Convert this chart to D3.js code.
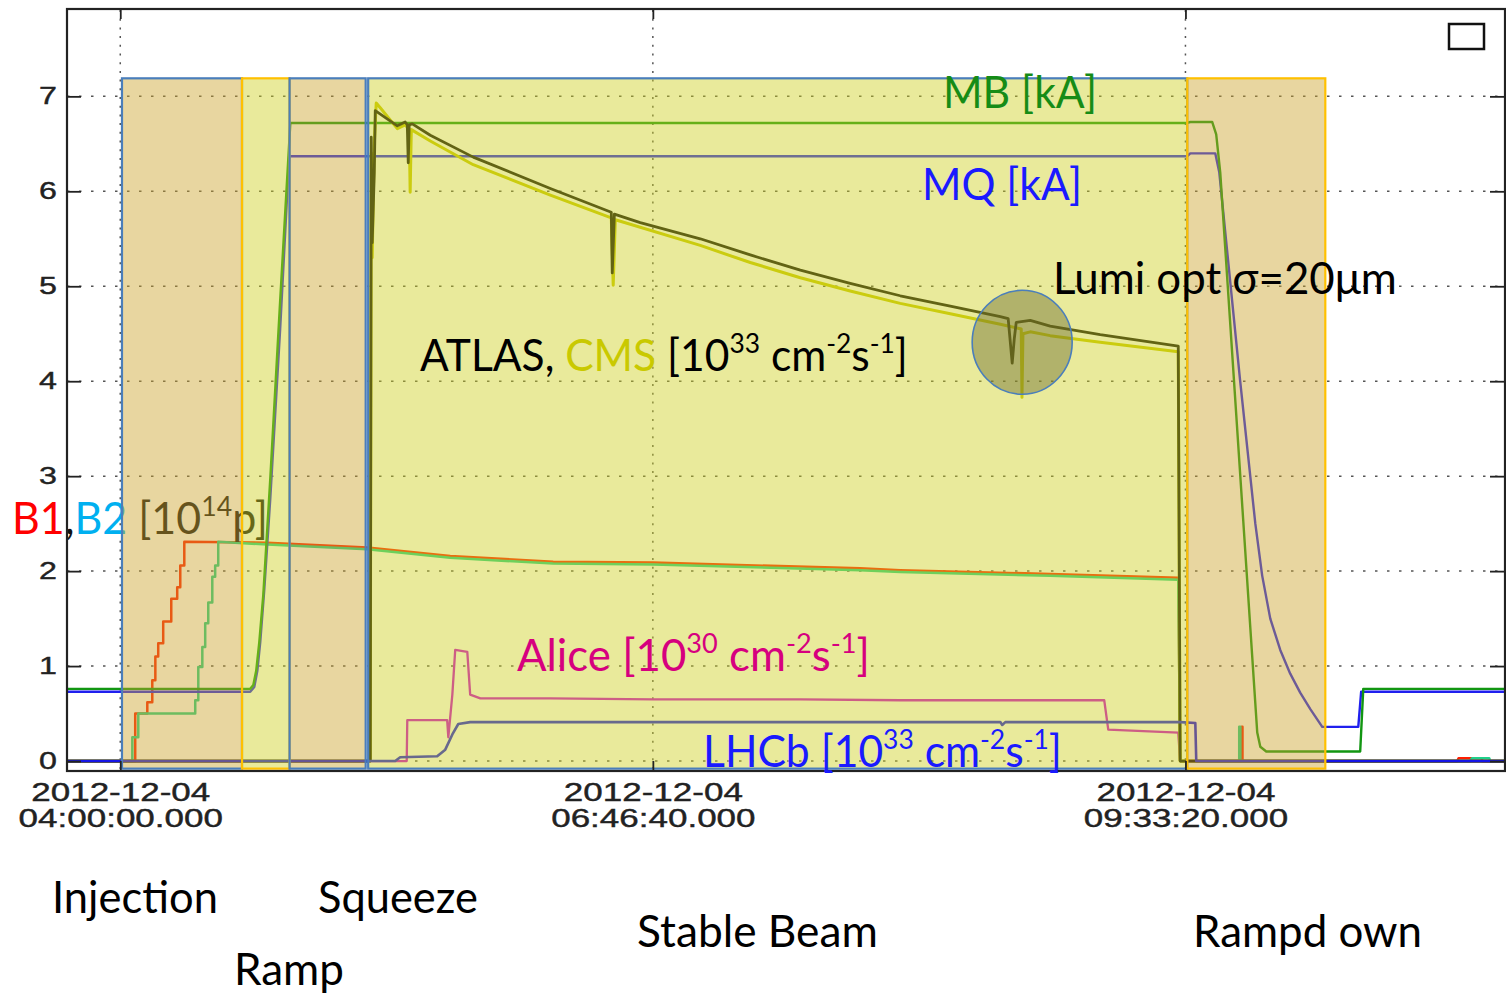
<!DOCTYPE html>
<html>
<head>
<meta charset="utf-8">
<script src="https://cdn.jsdelivr.net/npm/d3@7/dist/d3.min.js"></script>
<style>
html,body{margin:0;padding:0;background:#ffffff;overflow:hidden;}
svg{display:block;}
text{white-space:pre;}
</style>
</head>
<body>
<svg id="chart" width="1506" height="996"></svg>
<script>
// ================= DATA =================
// times: decimal hours on 2012-12-04 ; values in axis units
const dateLabel = "2012-12-04";
const xDomainTimes = ["03:43:20", "11:13:20"];
const xTickTimes = ["04:00:00", "06:46:40", "09:33:20"];
const yTicks = [0, 1, 2, 3, 4, 5, 6, 7];

const mbTime  = [3.7222, 4.678, 4.694, 4.709, 4.725, 4.746, 4.782, 4.834, 4.887, 9.565, 9.581, 9.695, 9.716, 9.737, 9.930, 9.946, 9.977, 10.467, 10.483, 11.2222];
const mbValue = [0.76, 0.76, 0.80, 0.95, 1.25, 1.75, 2.96, 4.85, 6.72, 6.72, 6.73, 6.73, 6.6, 6.2, 0.3, 0.15, 0.1, 0.1, 0.76, 0.76];

const mqTime  = [3.7222, 4.678, 4.699, 4.715, 4.730, 4.751, 4.782, 4.834, 4.881, 9.565, 9.581, 9.711, 9.732, 9.841, 9.920, 9.956, 9.998, 10.050, 10.102, 10.154, 10.206, 10.269, 10.457, 10.472, 11.2222];
const mqValue = [0.73, 0.73, 0.78, 0.95, 1.25, 1.8, 2.75, 4.55, 6.37, 6.37, 6.40, 6.40, 6.2, 4.0, 2.5, 1.95, 1.5, 1.17, 0.92, 0.72, 0.55, 0.36, 0.36, 0.73, 0.73];

const b1Time  = [3.7222, 4.078, 4.078, 4.141, 4.141, 4.167, 4.167, 4.183, 4.183, 4.198, 4.198, 4.224, 4.224, 4.266, 4.266, 4.297, 4.297, 4.313, 4.313, 4.334, 4.334, 4.767, 5.288, 5.721, 6.258, 6.780, 7.859, 8.068, 8.850, 9.518, 9.528, 9.850, 9.850, 9.853, 9.853, 10.973, 10.98, 11.10, 11.105, 11.2222];
const b1Value = [0, 0, 0.5, 0.5, 0.62, 0.62, 0.85, 0.85, 1.10, 1.10, 1.24, 1.24, 1.47, 1.47, 1.71, 1.71, 1.83, 1.83, 2.06, 2.06, 2.31, 2.30, 2.25, 2.16, 2.10, 2.09, 2.03, 2.01, 1.97, 1.93, 0, 0, 0.36, 0.36, 0, 0, 0.03, 0.03, 0, 0];

const b2Time  = [3.7222, 4.063, 4.063, 4.094, 4.094, 4.391, 4.391, 4.407, 4.407, 4.428, 4.428, 4.443, 4.443, 4.459, 4.459, 4.480, 4.480, 4.495, 4.495, 4.511, 4.511, 4.767, 5.288, 5.721, 6.258, 6.780, 7.859, 8.068, 8.850, 9.518, 9.528, 9.836, 9.836, 9.842, 9.842, 11.04, 11.05, 11.14, 11.145, 11.2222];
const b2Value = [0, 0, 0.25, 0.25, 0.5, 0.5, 0.64, 0.64, 0.99, 0.99, 1.20, 1.20, 1.45, 1.45, 1.67, 1.67, 1.94, 1.94, 2.06, 2.06, 2.31, 2.28, 2.23, 2.14, 2.08, 2.07, 2.01, 1.99, 1.95, 1.91, 0, 0, 0.36, 0.36, 0, 0, 0.03, 0.03, 0, 0];

const atlasTime  = [3.7222, 5.304, 5.309, 5.314, 5.325, 5.330, 5.445, 5.486, 5.497, 5.502, 5.507, 5.523, 5.617, 5.841, 6.243, 6.561, 6.566, 6.577, 6.712, 7.025, 7.286, 7.547, 7.807, 8.068, 8.329, 8.590, 8.631, 8.652, 8.663, 8.673, 8.746, 8.850, 9.111, 9.518, 9.528, 11.2222];
const atlasValue = [0, 0, 6.57, 5.46, 6.2, 6.85, 6.69, 6.73, 6.70, 6.30, 6.70, 6.71, 6.59, 6.36, 6.03, 5.78, 5.14, 5.76, 5.67, 5.50, 5.33, 5.17, 5.03, 4.90, 4.79, 4.68, 4.66, 4.19, 4.45, 4.62, 4.64, 4.58, 4.49, 4.37, 0, 0];

const cmsTime  = [3.7222, 5.304, 5.309, 5.314, 5.325, 5.335, 5.356, 5.445, 5.486, 5.507, 5.512, 5.518, 5.617, 5.841, 6.243, 6.561, 6.571, 6.582, 7.025, 7.286, 7.547, 7.807, 8.068, 8.329, 8.590, 8.699, 8.703, 8.708, 8.746, 8.850, 9.111, 9.518, 9.528, 11.2222];
const cmsValue = [0, 0, 6.4, 5.3, 6.5, 6.93, 6.88, 6.66, 6.70, 6.65, 5.99, 6.65, 6.53, 6.28, 5.96, 5.72, 5.01, 5.70, 5.43, 5.25, 5.09, 4.95, 4.82, 4.71, 4.60, 4.55, 3.83, 4.50, 4.52, 4.48, 4.41, 4.31, 0, 0];

const aliceTime  = [3.7222, 5.494, 5.497, 5.705, 5.711, 5.732, 5.747, 5.810, 5.825, 5.878, 6.243, 6.780, 7.547, 8.068, 8.590, 9.132, 9.153, 9.518, 9.528, 11.2222];
const aliceValue = [0, 0, 0.43, 0.43, 0.25, 0.7, 1.17, 1.15, 0.7, 0.66, 0.66, 0.65, 0.65, 0.64, 0.64, 0.64, 0.33, 0.30, 0, 0];

const lhcbTime  = [3.7222, 5.434, 5.460, 5.653, 5.695, 5.732, 5.763, 5.825, 8.590, 8.600, 8.616, 9.528, 9.607, 9.612, 11.2222];
const lhcbValue = [0, 0, 0.04, 0.05, 0.12, 0.28, 0.39, 0.41, 0.41, 0.38, 0.41, 0.41, 0.40, 0, 0];

const phaseName  = ["Injection", "Ramp", "Squeeze", "Stable Beam", "Rampd own"];
const phaseStart = [4.009, 4.635, 4.883, 5.293, 9.565];
const phaseEnd   = [4.635, 4.883, 5.280, 9.565, 10.285];
const phaseFill  = ["tan", "yellow", "tan", "yellow", "tan"];
const phaseEdge  = ["blue", "orange", "blue", "blue", "orange"];

const lumiOptTime = 8.704, lumiOptValue = 4.41;

// ================= DRAWING =================
const hrs = s => { const p = s.split(":").map(Number); return p[0] + p[1] / 60 + p[2] / 3600; };
const T0 = new Date(2012, 11, 4).getTime();
const toDate = h => new Date(T0 + h * 3600000);

const svg = d3.select("#chart");
const x = d3.scaleTime().domain(xDomainTimes.map(s => toDate(hrs(s)))).range([67, 1505]);
const y = d3.scaleLinear().domain([-0.105, 7.92]).range([771, 9]);

// grid
const grid = svg.append("g");
grid.selectAll("line.gh").data(yTicks).join("line").attr("class", "gh")
  .attr("x1", 67).attr("x2", 1505).attr("y1", d => y(d)).attr("y2", d => y(d))
  .attr("stroke", "#555").attr("stroke-width", 1.5).attr("stroke-dasharray", "2.5,9.5");
grid.selectAll("line.gv").data(xTickTimes).join("line").attr("class", "gv")
  .attr("x1", d => x(toDate(hrs(d)))).attr("x2", d => x(toDate(hrs(d))))
  .attr("y1", 10).attr("y2", 771)
  .attr("stroke", "#555").attr("stroke-width", 1.5).attr("stroke-dasharray", "2,6.7");

// series
const series = [
  {t: aliceTime, v: aliceValue, c: "#cd00d7", w: 2.3},
  {t: b1Time, v: b1Value, c: "#ff1e00", w: 2.5},
  {t: b2Time, v: b2Value, c: "#1fd08a", w: 2.5},
  {t: mqTime, v: mqValue, c: "#2020ee", w: 2.4},
  {t: mbTime, v: mbValue, c: "#129612", w: 2.4},
  {t: cmsTime, v: cmsValue, c: "#c8c800", w: 3},
  {t: atlasTime, v: atlasValue, c: "#0a0a0a", w: 2.8},
  {t: lhcbTime, v: lhcbValue, c: "#1515e6", w: 2.6}
];
const line = d3.line().x(d => x(toDate(d[0]))).y(d => y(d[1]));
const gl = svg.append("g").attr("fill", "none").attr("stroke-linejoin", "round");
series.forEach(s => {
  gl.append("path").attr("d", line(s.t.map((t, i) => [t, s.v[i]])))
    .attr("stroke", s.c).attr("stroke-width", s.w);
});

// rich label helper
function richLabel(parent, x0, base, width, size, color, segs) {
  const t = parent.append("text")
    .attr("font-family", "Lato, 'Open Sans', sans-serif")
    .attr("font-size", size).attr("fill", color).attr("x", 0).attr("y", 0);
  let shifted = false;
  const supSize = size * 0.62, rise = size * 0.40;
  segs.forEach(s => {
    const ts = t.append("tspan").text(s.t);
    if (s.c) ts.attr("fill", s.c);
    if (s.sup && !shifted) { ts.attr("dy", -rise); shifted = true; }
    else if (!s.sup && shifted) { ts.attr("dy", rise); shifted = false; }
    if (s.sup) ts.attr("font-size", supSize);
  });
  const bb = t.node().getBBox();
  const sx = width / bb.width;
  t.attr("transform", `translate(${x0 - bb.x * sx},${base}) scale(${sx},1)`);
  return t;
}

// B1,B2 label (sits under the phase overlay)
richLabel(svg, 12, 534, 256, 44, "#111", [
  {t: "B1", c: "#ff0000"}, {t: ",", c: "#111"}, {t: "B2", c: "#00b0f0"},
  {t: " [10"}, {t: "14", sup: true}, {t: "p]"}
]);

// phase overlays
const fillCol = {tan: "rgb(204,164,44)", yellow: "rgb(206,208,33)"};
const edgeCol = {blue: "#4a7ebb", orange: "#ffc000"};
const gp = svg.append("g");
phaseName.forEach((n, i) => {
  const x1 = x(toDate(phaseStart[i])), x2 = x(toDate(phaseEnd[i]));
  gp.append("rect").attr("x", x1).attr("y", y(7.19)).attr("width", x2 - x1).attr("height", y(-0.08) - y(7.19))
    .attr("fill", fillCol[phaseFill[i]]).attr("fill-opacity", 0.45)
    .attr("stroke", edgeCol[phaseEdge[i]]).attr("stroke-width", 2.2);
});

// lumi optimisation circle
svg.append("ellipse").attr("cx", x(toDate(lumiOptTime))).attr("cy", y(lumiOptValue))
  .attr("rx", 50).attr("ry", 52)
  .attr("fill", "rgb(100,100,40)").attr("fill-opacity", 0.42)
  .attr("stroke", "#4a7ebb").attr("stroke-width", 1.6);

// frame
svg.append("rect").attr("x", 67).attr("y", 9).attr("width", 1438).attr("height", 762)
  .attr("fill", "none").attr("stroke", "#222").attr("stroke-width", 2.2);

// axes
const axisFont = "'Liberation Sans', Arial, Helvetica, sans-serif";
const gL = svg.append("g").attr("transform", "translate(67,0)")
  .call(d3.axisLeft(y).tickValues(yTicks).tickSize(-14).tickPadding(10));
gL.select(".domain").remove();
gL.selectAll(".tick line").attr("stroke", "#222").attr("stroke-width", 1.8);
gL.selectAll(".tick text").attr("x", null).attr("transform", "translate(-10,0) scale(1.4,1)")
  .attr("font-family", axisFont).attr("font-size", 23).attr("fill", "#222")
  .attr("stroke", "#222").attr("stroke-width", 0.4);

const gR = svg.append("g").attr("transform", "translate(1505,0)")
  .call(d3.axisRight(y).tickValues(yTicks).tickSize(-15).tickFormat(() => ""));
gR.select(".domain").remove();
gR.selectAll(".tick line").attr("stroke", "#222").attr("stroke-width", 1.8);

const xTickDates = xTickTimes.map(s => toDate(hrs(s)));
const gT = svg.append("g").attr("transform", "translate(0,9)")
  .call(d3.axisTop(x).tickValues(xTickDates).tickSize(-10).tickFormat(() => ""));
gT.select(".domain").remove();
gT.selectAll(".tick line").attr("stroke", "#222").attr("stroke-width", 1.8);

const gB = svg.append("g").attr("transform", "translate(0,771)")
  .call(d3.axisBottom(x).tickValues(xTickDates).tickSize(-10).tickFormat(() => ""));
gB.select(".domain").remove();
gB.selectAll(".tick line").attr("stroke", "#222").attr("stroke-width", 1.8);
gB.selectAll(".tick").each(function (d, i) {
  const g = d3.select(this);
  g.select("text").remove();
  g.append("text").attr("transform", "translate(0,30) scale(1.4,1)").attr("text-anchor", "middle")
    .attr("font-family", axisFont).attr("font-size", 25).attr("fill", "#222")
    .attr("stroke", "#222").attr("stroke-width", 0.4).text(dateLabel);
  g.append("text").attr("transform", "translate(0,56) scale(1.4,1)").attr("text-anchor", "middle")
    .attr("font-family", axisFont).attr("font-size", 25).attr("fill", "#222")
    .attr("stroke", "#222").attr("stroke-width", 0.4).text(xTickTimes[i] + ".000");
});

// legend box icon
svg.append("rect").attr("x", 1449).attr("y", 24).attr("width", 35).attr("height", 25)
  .attr("fill", "none").attr("stroke", "#111").attr("stroke-width", 2.5);

// annotations
const ga = svg.append("g");
richLabel(ga, 943, 108, 154, 44, "#168c16", [{t: "MB [kA]"}]);
richLabel(ga, 922, 200, 160, 44, "#1a1aff", [{t: "MQ [kA]"}]);
richLabel(ga, 1053, 294, 344, 44, "#000", [{t: "Lumi opt σ=20μm"}]);
richLabel(ga, 420, 371, 488, 44, "#000", [
  {t: "ATLAS, "}, {t: "CMS", c: "#c9c900"}, {t: " [10"}, {t: "33", sup: true},
  {t: " cm"}, {t: "-2", sup: true}, {t: "s"}, {t: "-1", sup: true}, {t: "]"}
]);
richLabel(ga, 517, 671, 353, 44, "#d6007f", [
  {t: "Alice [10"}, {t: "30", sup: true}, {t: " cm"}, {t: "-2", sup: true}, {t: "s"}, {t: "-1", sup: true}, {t: "]"}
]);
richLabel(ga, 703, 767, 359, 44, "#1a1aff", [
  {t: "LHCb [10"}, {t: "33", sup: true}, {t: " cm"}, {t: "-2", sup: true}, {t: "s"}, {t: "-1", sup: true}, {t: "]"}
]);

// phase names below the chart
const phaseLabelPos = [[52, 913, 166], [234, 985, 110], [318, 913, 160], [637, 947, 241], [1193, 947, 229]];
phaseName.forEach((n, i) => {
  const p = phaseLabelPos[i];
  richLabel(ga, p[0], p[1], p[2], 44, "#000", [{t: n}]);
});
</script>
</body>
</html>
